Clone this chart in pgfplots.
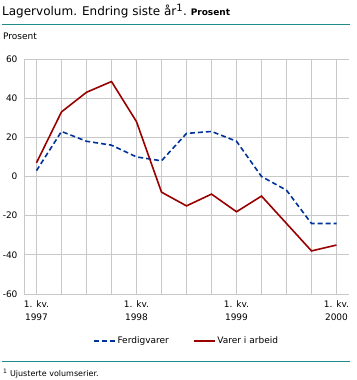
\documentclass[border=0pt]{standalone}
\usepackage{pgfplots}
\pgfplotsset{compat=1.18}
\usepackage{fontspec}
\setmainfont{DejaVu Sans}
\definecolor{gridg}{RGB}{200,200,200}
\definecolor{sblue}{RGB}{0,51,153}
\definecolor{sred}{RGB}{153,0,0}
\definecolor{teal2}{RGB}{30,140,140}
\begin{document}
\begin{tikzpicture}[x=1pt,y=1pt]
\path[use as bounding box] (-24,-86) rectangle (332,294);
\begin{axis}[
  at={(0,0)}, anchor=south west,
  scale only axis, width=325pt, height=235pt,
  xmin=-0.5, xmax=12.5, ymin=-60, ymax=60,
  xtick={0,...,12},
  xticklabels={{1. kv.\\1997},,,,{1. kv.\\1998},,,,{1. kv.\\1999},,,,{1. kv.\\2000}},
  xticklabel style={align=center, font=\fontsize{9}{13}\selectfont, yshift=-3pt},
  ytick={-60,-40,...,60},
  yticklabel style={font=\fontsize{9}{11}\selectfont, xshift=-3pt},
  /pgf/number format/assume math mode=true,
  major tick length=0pt,
  grid=major, grid style={gridg, line width=0.8pt},
  axis x line*=bottom, axis y line*=left,
  axis line style={gridg, line width=0.8pt, -},
  legend columns=2,
  legend style={at={(0.5,-0.165)}, anchor=north, draw=none, fill=none,
    font=\fontsize{9}{11}\selectfont, /tikz/every even column/.append style={column sep=22pt}},
  legend image code/.code={\draw[#1] (0pt,0pt) -- (21pt,0pt);},
]
\addplot[sblue, line width=1.6pt, dash pattern=on 5pt off 3pt] coordinates {
(0,3) (1,23) (2,18) (3,16) (4,10) (5,8) (6,22) (7,23) (8,18) (9,0) (10,-7) (11,-24) (12,-24)};
\addlegendentry{Ferdigvarer}
\addplot[sred, line width=1.6pt] coordinates {
(0,7) (1,33) (2,43) (3,48.5) (4,28) (5,-8) (6,-15) (7,-9) (8,-18) (9,-10) (10,-24) (11,-38) (12,-35)};
\addlegendentry{Varer i arbeid}
\end{axis}
\node[anchor=base west, inner sep=0] at (-22,278) {\fontsize{12}{14}\selectfont Lagervolum. Endring siste år\textsuperscript{\fontsize{10}{12}\selectfont 1}.\ {\fontsize{9}{11}\selectfont\bfseries Prosent}};
\draw[teal2, line width=1pt] (-22,269) -- (326,269);
\node[anchor=base west, inner sep=0] at (-21,254) {\fontsize{9}{11}\selectfont Prosent};
\draw[teal2, line width=1pt] (-22,-67) -- (326,-67);
\node[anchor=base west, inner sep=0] at (-21,-82) {\fontsize{8}{10}\selectfont\textsuperscript{1} Ujusterte volumserier.};
\end{tikzpicture}
\end{document}
